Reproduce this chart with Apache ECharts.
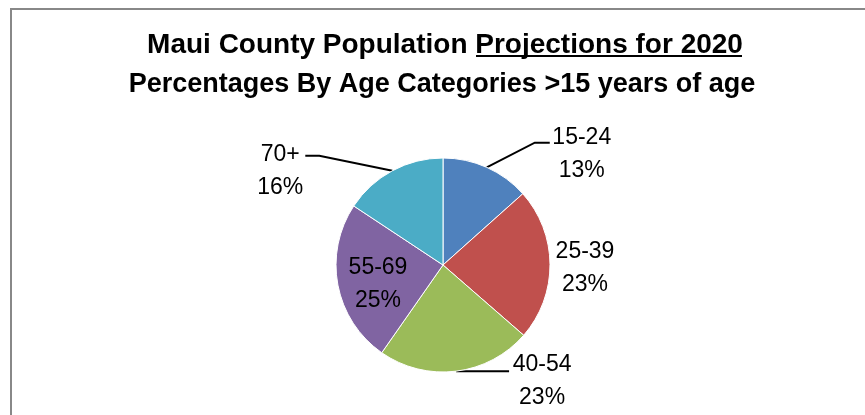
<!DOCTYPE html>
<html>
<head>
<meta charset="utf-8">
<script src="https://cdn.jsdelivr.net/npm/echarts@6/dist/echarts.min.js"></script>
<style>
html,body{margin:0;padding:0;background:#fff;}
#main{width:865px;height:415px;}
</style>
</head>
<body>
<div id="main"></div>
<script>
var titleLine1 = 'Maui County Population Projections for 2020';
var titleLine2 = 'Percentages By Age Categories >15 years of age';
var categories = ['15-24', '25-39', '40-54', '55-69', '70+'];
var values = [13.4, 23.0, 23.3, 24.6, 15.7];
var colors = ['#4F81BD', '#C0504D', '#9BBB59', '#8064A2', '#4BACC6'];

// per-slice label styling (leader lengths in px, padding shifts text block)
var labelCfg = {
  '15-24': { length: 27, length2: 52, padding: [23, 0, 0, 0], dist: 2, seg: 15 },
  '25-39': { length: 0, length2: 0, padding: [8, 0, 0, 0], noLine: true, dist: 5 },
  '40-54': { length: 0, length2: 53, padding: [20, 0, 0, 0], dist: 3, seg: 0 },
  '55-69': { inside: true, padding: [18, 19, 0, 0] },
  '70+':   { length: 17, length2: 79, padding: [30, 0, 0, 0], dist: -5, seg: 14 }
};

var chart = echarts.init(document.getElementById('main'));
var data = categories.map(function (c, i) {
  var cfg = labelCfg[c];
  var d = { name: c, value: values[i], itemStyle: { color: colors[i] }, label: { padding: cfg.padding } };
  if (cfg.inside) {
    d.label.position = 'inside';
    d.labelLine = { show: false };
  } else {
    d.label.distanceToLabelLine = cfg.dist;
    d.labelLine = { show: !cfg.noLine, length: cfg.length, length2: cfg.length2 };
  }
  return d;
});

var font = 'Liberation Sans';
chart.setOption({
  animation: false,
  backgroundColor: '#fff',
  title: [
    { text: titleLine1, left: 440, top: 26, textAlign: 'center',
      textStyle: { fontFamily: font, fontWeight: 'bold', fontSize: 28, color: '#000' } },
    { text: titleLine2, left: 437, top: 66, textAlign: 'center',
      textStyle: { fontFamily: font, fontWeight: 'bold', fontSize: 27, color: '#000' } }
  ],
  graphic: [
    { type: 'rect', shape: { x: 11, y: 9, width: 1000, height: 1000 }, style: { fill: 'none', stroke: '#888', lineWidth: 2 }, silent: true },
    { type: 'line', shape: { x1: 476, y1: 56, x2: 742, y2: 56 }, style: { stroke: '#000', lineWidth: 2 }, silent: true }
  ],
  series: [{
    type: 'pie',
    center: [443, 265],
    radius: 107,
    startAngle: 90,
    clockwise: true,
    percentPrecision: 0,
    avoidLabelOverlap: false,
    data: data,
    itemStyle: { borderColor: '#fff', borderWidth: 1 },
    label: {
      show: true,
      formatter: '{a|{b}}\n{a|{d}%}',
      rich: {
        a: { fontFamily: font, fontSize: 23, lineHeight: 33, color: '#000', width: 60, align: 'center' }
      }
    },
    labelLine: { show: true, lineStyle: { color: '#000', width: 2 } },
    labelLayout: function (params) {
      var pts = params.labelLinePoints;
      if (!pts || pts.length < 3) return {};
      var cfg = labelCfg[categories[params.dataIndex]];
      var dir = pts[2][0] > pts[0][0] ? 1 : -1;
      var seg = cfg.seg || 0;
      var p = [pts[0].slice(), [pts[2][0] - dir * seg, pts[2][1]], pts[2].slice()];
      if (!seg) p = [pts[0].slice(), [pts[2][0], pts[0][1]], [pts[2][0], pts[0][1]]];
      return { labelLinePoints: p };
    }
  }]
});
</script>
</body>
</html>
